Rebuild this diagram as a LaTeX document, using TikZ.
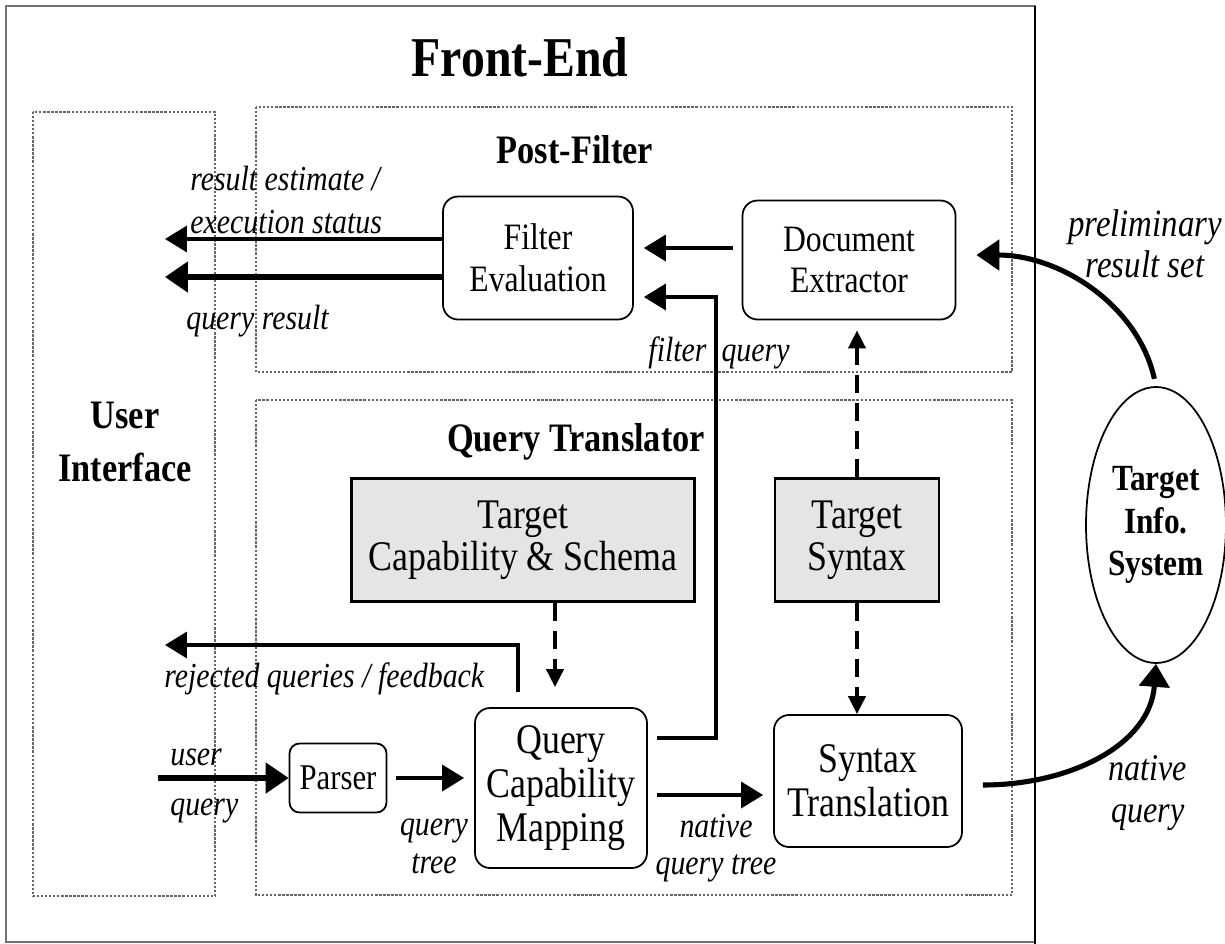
\documentclass[tikz,border=0pt]{standalone}
\usepackage{fontspec}
\setmainfont[FakeStretch=0.85]{Liberation Serif}
\usetikzlibrary{arrows.meta,shapes.geometric}
\newcommand\fsz[2]{\fontsize{#1}{#2}\selectfont}
\begin{document}
\begin{tikzpicture}[x=0.02cm, y=-0.02cm,
    rbox/.style={draw, line width=1pt, rounded corners=0.3cm, align=center, inner sep=0pt, font=\fsz{21.2}{23.8}},
    pal/.style={font=\fsz{24}{25}},
    sbox/.style={draw, line width=1.2pt, fill=black!10, align=center, inner sep=0pt, font=\fsz{24}{24}},
    frame/.style={draw=black!60, densely dotted, line width=1.3pt},
    ttl/.style={font=\bfseries\fsz{23}{30}, align=center},
    lbl/.style={font=\itshape\fsz{20}{25}, align=center, inner sep=0pt},
    rlbl/.style={font=\itshape\fsz{22}{23.5}},
    arr/.style={line width=2pt, -{Triangle[length=0.44cm,width=0.52cm]}},
    thk/.style={line width=2.9pt, -{Triangle[length=0.46cm,width=0.6cm]}},
    darr/.style={line width=2.2pt, dash pattern=on 0.36cm off 0.2cm, -{Triangle[length=0.36cm,width=0.34cm]}},
    gap/.style={shorten <=0.18cm, shorten >=0.2cm}]
    \useasboundingbox (0,0) rectangle (1225,944);
    \draw[black!55, line width=0.8pt] (6,6) rectangle (1035,942);
    \draw[line width=1pt] (1035,6) -- (1035,944);   % border to the target system
    \draw[frame] (33,112) rectangle (215,896);
    \draw[frame] (256,107) rectangle (1012,372);
    \draw[frame] (256,400) rectangle (1012,895);
    \node[font=\bfseries\fsz{32}{34}] (fe) at (520,57) {Front-End};
    \node[ttl] (ui) at (125,442) {User\\Interface};
    \node[ttl] (pf) at (575,150) {Post-Filter};
    \node[ttl] (qt) at (576,442) {Query Translator};
    \node[rbox, minimum width=3.8cm, minimum height=2.46cm] (filt) at (538,258) {Filter\\Evaluation};
    \node[rbox, minimum width=4.26cm, minimum height=2.38cm] (doc) at (849,260) {Document\\Extractor};
    \node[sbox, minimum width=6.86cm, minimum height=2.46cm] (tcs) at (523,540) {Target\\Capability \& Schema};
    \node[sbox, minimum width=3.28cm, minimum height=2.46cm] (tsx) at (857,540) {Target\\Syntax};
    \node[rbox, font=\fsz{20.6}{22}, minimum width=1.94cm, minimum height=1.38cm, rounded corners=0.2cm] (pars) at (338,778) {Parser};
    \node[rbox, pal, minimum width=3.44cm, minimum height=3.2cm] (qcm) at (561,788) {Query\\Capability\\Mapping};
    \node[rbox, pal, minimum width=3.76cm, minimum height=2.64cm] (synt) at (868,781) {Syntax\\Translation};
    \node[ellipse, draw, line width=1pt, minimum width=2.8cm, minimum height=5.52cm, inner sep=0pt, ttl, font=\bfseries\fsz{21}{24}] (tis) at (1156,525) {Target\\Info.\\System};
    % free ends on the user interface side
    \coordinate (ui-stat) at (165,239);
    \coordinate (ui-res) at (165,277);
    \coordinate (ui-rej) at (165,645);
    \coordinate (uq) at (158,778);
    \draw[arr] (filt.west |- ui-stat) -- (ui-stat);
    \draw[thk] (filt.west |- ui-res) -- (ui-res);
    \draw[arr, gap] (doc.west |- 0,248) -- (filt.east |- 0,248);
    \draw[arr, gap] (qcm.east |- 0,738) -- (716,738) -- (716,297) -- (filt.east |- 0,297);
    \draw[darr, shorten >=0.2cm] (tsx.north) -- (tsx.north |- doc.south);
    \draw[darr, shorten >=0.4cm] (555,0 |- tcs.south) -- (555,0 |- qcm.north);
    \draw[darr] (tsx.south) -- (tsx.south |- synt.north);
    \draw[arr, shorten <=0.3cm] (518,0 |- qcm.north) -- (518,645) -- (ui-rej);
    \draw[thk] (uq) -- (pars.west);
    \draw[arr, gap] (pars) -- (qcm.west |- pars);
    \draw[arr, gap] (qcm.east |- 0,795) -- (synt.west |- 0,795);
    \draw[thk, shorten <=0.4cm] (synt.east |- 0,785) .. controls (1070,785) and (1150,745) .. (tis.south);
    \draw[thk, shorten <=0.15cm, shorten >=0.4cm] (tis.north) .. controls (1138,305) and (1060,255) .. (doc.east |- 0,255);
    % labels
    \node[lbl, align=left, anchor=west] (l-stat) at (190,200) {result estimate /\\execution status};
    \node[lbl, anchor=west] (l-res) at (186,321) {query result};
    \node[lbl, anchor=west] (l-rej) at (164,679) {rejected queries / feedback};
    \node[lbl, align=left, anchor=west] (l-uq) at (170,786) {user\\[3pt]query};
    \node[lbl] (l-qt) at (434,846) {query\\[-3.5pt]tree};
    \node[lbl] (l-nqt) at (716,848) {native\\[-4pt]query tree};
    \node[lbl] (l-fq) at (719,353) {filter\hspace{0.3cm}query};
    \node[lbl, rlbl, font=\itshape\fsz{21.5}{24}] (l-nq) at (1148,793) {native\\query};
    \node[lbl, rlbl] (l-prs) at (1145,244) {preliminary\\result set};
\end{tikzpicture}
\end{document}
